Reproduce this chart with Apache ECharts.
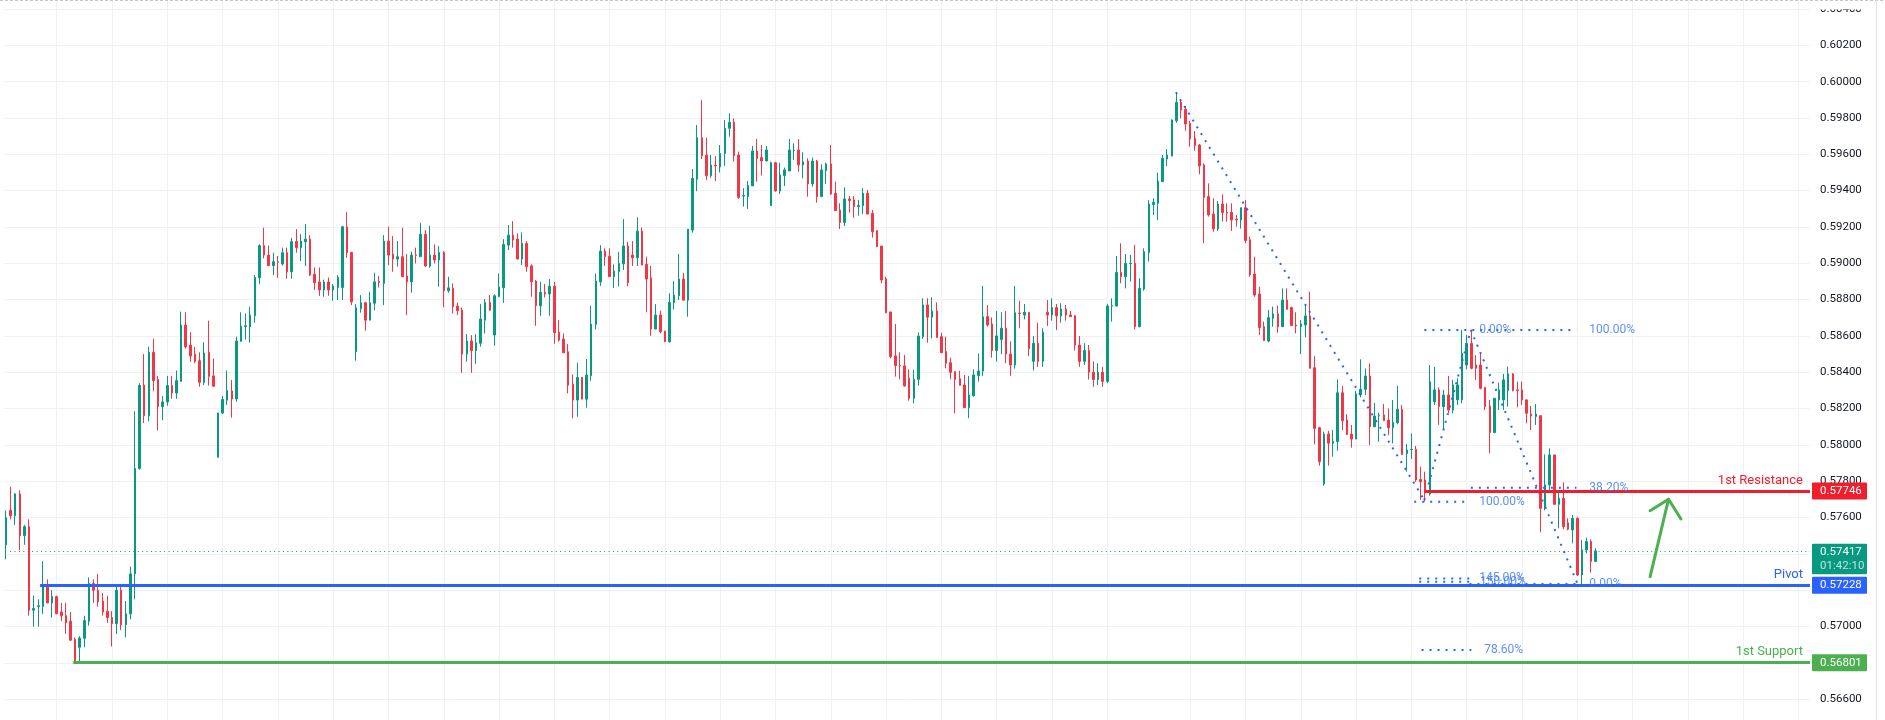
<!DOCTYPE html>
<html><head><meta charset="utf-8">
<script src="https://cdn.jsdelivr.net/npm/echarts@6/dist/echarts.min.js"></script>
<style>html,body{margin:0;padding:0;background:#fff}#c{width:1885px;height:720px}</style>
</head><body><div id="c"></div>
<script>
const opens=[0.5745,0.5764,0.5761,0.5773,0.575,0.5755,0.5709,0.5711,0.5711,0.5723,
0.5713,0.57165,0.5708,0.5706,0.5703,0.5693,0.56886,0.56936,0.5703,0.57237,
0.572,0.5714,0.57085,0.5705,0.57016,0.572,0.5701,0.5707,0.5729,0.5787,
0.5833,0.5816,0.5851,0.5836,0.5821,0.58237,0.58327,0.58286,0.5835,0.5866,
0.5855,0.585,0.58464,0.58345,0.5851,0.5838,0.57932,0.58176,0.58246,0.58297,
0.58253,0.5857,0.58652,0.5865,0.58711,0.5892,0.59097,0.59045,0.58987,0.59008,
0.58996,0.59058,0.58953,0.5912,0.59086,0.59118,0.59133,0.5894,0.58897,0.58853,
0.58897,0.58853,0.58867,0.58867,0.592,0.5906,0.58513,0.5875,0.58783,0.58687,
0.5878,0.589,0.58889,0.59122,0.5905,0.59023,0.59036,0.5893,0.58898,0.59046,
0.59036,0.5916,0.58985,0.59045,0.59018,0.5906,0.58849,0.58862,0.58764,0.58742,
0.585,0.58572,0.58519,0.5856,0.58687,0.58785,0.58605,0.58816,0.58865,0.591,
0.59155,0.59133,0.59023,0.59109,0.58986,0.58902,0.58766,0.5884,0.58831,0.58874,
0.58621,0.58583,0.58513,0.58335,0.58247,0.58372,0.58252,0.58381,0.58663,0.58898,
0.59067,0.59039,0.58926,0.58953,0.58996,0.59095,0.59045,0.5903,0.59177,0.58994,
0.5892,0.58638,0.58715,0.58627,0.58568,0.58783,0.58821,0.58913,0.58797,0.59183,
0.59463,0.59691,0.59596,0.59482,0.5954,0.59531,0.59605,0.59743,0.59776,0.59596,
0.5937,0.59367,0.59426,0.59618,0.59582,0.59563,0.59317,0.59554,0.59398,0.59483,
0.59508,0.5962,0.59624,0.59541,0.59563,0.59437,0.59563,0.59367,0.5951,0.59547,
0.59385,0.59293,0.59224,0.59354,0.59349,0.59312,0.59317,0.59385,0.59275,0.5918,
0.59095,0.58914,0.58732,0.5849,0.58438,0.58435,0.58367,0.58257,0.58361,0.58595,
0.58771,0.58703,0.58737,0.58596,0.58514,0.58453,0.58404,0.58365,0.5833,0.58205,
0.58271,0.58382,0.58407,0.58706,0.58666,0.5852,0.5858,0.58642,0.585,0.5844,
0.58726,0.58715,0.5873,0.5846,0.5856,0.5846,0.5873,0.58715,0.58756,0.5871,
0.58748,0.58715,0.58711,0.5855,0.5846,0.5852,0.584,0.5836,0.584,0.5835,
0.58765,0.58765,0.5895,0.58926,0.58998,0.59,0.58651,0.58858,0.5906,0.59324,
0.5933,0.59449,0.59574,0.5959,0.59785,0.59886,0.59848,0.5977,0.59688,0.59651,
0.59541,0.59367,0.59271,0.59189,0.59326,0.5928,0.5928,0.59242,0.59238,0.59306,
0.59129,0.58941,0.58831,0.58651,0.58572,0.58697,0.58721,0.58651,0.58798,0.58756,
0.5866,0.58651,0.5866,0.5871,0.58425,0.58095,0.57785,0.5806,0.58009,0.58018,
0.58287,0.58137,0.5806,0.58032,0.58275,0.58306,0.58379,0.581,0.5816,0.58165,
0.58137,0.58095,0.58122,0.58196,0.57953,0.57975,0.57976,0.5781,0.57807,0.5773,
0.58238,0.58303,0.58211,0.58275,0.58192,0.58248,0.58248,0.5844,0.58559,0.5844,
0.5844,0.58317,0.58214,0.58068,0.58248,0.58248,0.58299,0.58391,0.58303,0.58303,
0.58248,0.5817,0.58156,0.58161,0.57651,0.5778,0.57945,0.57673,0.57706,0.57572,
0.57532,0.57596,0.57284,0.57422,0.57468,0.57358];
const closes=[0.576,0.5761,0.5773,0.575,0.5755,0.5709,0.571,0.57115,0.5723,0.5713,
0.57165,0.5707,0.5706,0.5702,0.56925,0.56803,0.56937,0.57033,0.57237,0.572,
0.57137,0.5708,0.5705,0.57016,0.572,0.5701,0.5707,0.5729,0.5787,0.58327,
0.5816,0.5851,0.58354,0.5821,0.58237,0.58327,0.58286,0.58354,0.5866,0.5854,
0.5849,0.5846,0.58345,0.58506,0.58378,0.58323,0.58176,0.5825,0.583,0.58253,
0.58572,0.58654,0.58656,0.58715,0.58922,0.59097,0.59045,0.58987,0.59009,0.59006,
0.59058,0.58953,0.59119,0.59086,0.59122,0.59133,0.58935,0.58893,0.58853,0.58897,
0.58853,0.58875,0.58922,0.59201,0.59058,0.58788,0.58755,0.58783,0.58687,0.58783,
0.58898,0.58894,0.59122,0.59045,0.59023,0.59036,0.58926,0.58898,0.59045,0.59043,
0.5916,0.58985,0.59045,0.59018,0.5906,0.58849,0.58865,0.58761,0.58739,0.585,
0.58572,0.58519,0.58563,0.58693,0.58785,0.58742,0.58821,0.58869,0.59104,0.59155,
0.59128,0.59023,0.59109,0.58981,0.58898,0.58766,0.5884,0.58831,0.58874,0.58618,
0.58577,0.58507,0.58329,0.58247,0.58372,0.58252,0.58385,0.58665,0.58902,0.59067,
0.59036,0.58926,0.58957,0.58999,0.59095,0.58893,0.5903,0.59177,0.5899,0.58913,
0.58638,0.58715,0.58623,0.58568,0.58785,0.58825,0.58913,0.58797,0.59188,0.59467,
0.59691,0.59592,0.59482,0.59541,0.59536,0.59605,0.59743,0.59776,0.59593,0.59363,
0.59373,0.59429,0.59618,0.59576,0.59563,0.59624,0.59554,0.59398,0.59486,0.59514,
0.59624,0.59622,0.59541,0.59558,0.59437,0.59563,0.59367,0.59514,0.59547,0.59382,
0.5929,0.59224,0.59354,0.59345,0.59312,0.59319,0.59385,0.59271,0.59174,0.59092,
0.58908,0.58728,0.58486,0.58437,0.58435,0.58325,0.58257,0.58361,0.58599,0.58771,
0.58703,0.58737,0.58591,0.58508,0.58449,0.584,0.58361,0.58328,0.58205,0.58275,
0.58385,0.58407,0.58706,0.5866,0.5852,0.586,0.58642,0.585,0.5844,0.58728,
0.58724,0.5873,0.5853,0.5856,0.5846,0.5862,0.58715,0.58756,0.5871,0.58748,
0.58715,0.58706,0.5855,0.5846,0.5852,0.584,0.5836,0.584,0.5835,0.58765,
0.58767,0.5895,0.58926,0.59,0.59,0.58651,0.58862,0.59064,0.59326,0.59336,
0.59453,0.59578,0.59596,0.59789,0.59886,0.59844,0.59767,0.59684,0.59647,0.59536,
0.59363,0.59266,0.59189,0.59326,0.59279,0.59276,0.59238,0.59238,0.59306,0.59125,
0.58936,0.58825,0.58646,0.58574,0.58701,0.58721,0.58651,0.58798,0.58747,0.58657,
0.58655,0.58666,0.5871,0.58422,0.58091,0.57908,0.5806,0.58009,0.58021,0.58287,
0.58133,0.58058,0.58032,0.5828,0.58306,0.58379,0.581,0.58159,0.58163,0.58133,
0.58095,0.58124,0.58196,0.57948,0.57972,0.57976,0.57807,0.57797,0.57737,0.58348,
0.58303,0.58211,0.58275,0.58192,0.5833,0.5833,0.58504,0.58559,0.58422,0.58422,
0.58312,0.58211,0.58068,0.58257,0.58303,0.58358,0.58391,0.58299,0.58299,0.58248,
0.58174,0.58159,0.5817,0.57651,0.5778,0.57945,0.57673,0.57706,0.5755,0.57536,
0.57596,0.57284,0.57422,0.57468,0.57358,0.57417];
const lows=[0.5737,0.5759,0.5756,0.5742,0.5745,0.5706,0.57,0.57,0.5707,0.5713,
0.5705,0.5707,0.5703,0.5696,0.5692,0.56801,0.56805,0.56886,0.57005,0.5713,
0.5711,0.5706,0.5702,0.5689,0.5696,0.5698,0.5694,0.5704,0.5715,0.57864,
0.5812,0.5813,0.58295,0.5808,0.58136,0.58216,0.58255,0.58255,0.5835,0.5853,
0.58457,0.5845,0.5832,0.5833,0.58327,0.5832,0.5793,0.5817,0.5822,0.5815,
0.58238,0.5857,0.5858,0.58563,0.58673,0.58884,0.59027,0.58987,0.58935,0.5892,
0.58987,0.58915,0.58915,0.59058,0.59012,0.58985,0.5893,0.58853,0.5882,0.58816,
0.58821,0.58794,0.58798,0.58798,0.5903,0.5877,0.58464,0.58728,0.58629,0.58687,
0.58742,0.58867,0.5877,0.5899,0.58953,0.58981,0.58926,0.58715,0.58838,0.58999,
0.59036,0.58981,0.58975,0.58999,0.58871,0.58757,0.58838,0.58724,0.58715,0.58397,
0.58458,0.58397,0.58447,0.58541,0.58614,0.58737,0.58546,0.58814,0.58783,0.59073,
0.59086,0.59023,0.5899,0.58953,0.58816,0.58656,0.58711,0.58812,0.58711,0.58557,
0.58568,0.58507,0.58284,0.58146,0.58155,0.58252,0.58205,0.58353,0.58636,0.58876,
0.58986,0.58926,0.58865,0.58874,0.58963,0.58874,0.58985,0.58985,0.5899,0.5873,
0.58601,0.58638,0.58614,0.58568,0.58563,0.58746,0.58797,0.58797,0.58706,0.59168,
0.59397,0.59574,0.59458,0.59471,0.59453,0.595,0.59536,0.59697,0.5956,0.59354,
0.59312,0.59299,0.59426,0.59449,0.59483,0.59563,0.59317,0.59394,0.59382,0.59426,
0.59508,0.59569,0.59504,0.59468,0.59367,0.59422,0.59334,0.59367,0.59437,0.59376,
0.5929,0.59189,0.59205,0.59279,0.59251,0.59262,0.59271,0.59271,0.59141,0.59088,
0.5889,0.58725,0.58477,0.58376,0.58361,0.58321,0.58244,0.58229,0.58326,0.58583,
0.58563,0.58587,0.58591,0.58504,0.58422,0.58361,0.58174,0.58328,0.58205,0.58147,
0.58266,0.58348,0.5838,0.58651,0.5848,0.5846,0.585,0.5845,0.5838,0.5842,
0.58642,0.58691,0.5849,0.5841,0.5843,0.5843,0.58655,0.58684,0.58633,0.58673,
0.58684,0.58706,0.5852,0.5843,0.5844,0.5836,0.5832,0.5833,0.5832,0.5834,
0.58679,0.58761,0.5889,0.58862,0.58899,0.58636,0.58647,0.58849,0.59009,0.59266,
0.59238,0.59449,0.59536,0.5959,0.59774,0.59798,0.5973,0.59642,0.5962,0.5949,
0.5911,0.59257,0.59174,0.59178,0.59229,0.59229,0.59178,0.59202,0.59191,0.5911,
0.58926,0.58816,0.58605,0.58574,0.58565,0.58651,0.58618,0.58651,0.58745,0.58657,
0.58614,0.58501,0.58592,0.58422,0.58003,0.57886,0.57775,0.57886,0.57935,0.57968,
0.58082,0.58054,0.57985,0.58032,0.58262,0.58275,0.57999,0.581,0.58018,0.58133,
0.58054,0.58009,0.58113,0.57944,0.57853,0.57922,0.57797,0.57697,0.57688,0.57721,
0.5822,0.5811,0.58082,0.58174,0.58174,0.5822,0.58229,0.58416,0.58416,0.58358,
0.58306,0.58192,0.57954,0.58064,0.58192,0.58192,0.58211,0.58295,0.58207,0.5822,
0.58119,0.58082,0.5811,0.57519,0.5764,0.57752,0.5767,0.57541,0.57536,0.5753,
0.57458,0.57279,0.57229,0.57403,0.57297,0.57358];
const highs=[0.5764,0.5777,0.57735,0.5775,0.5756,0.5759,0.5717,0.5715,0.5736,0.5726,
0.572,0.5717,0.5713,0.5713,0.5708,0.5694,0.56947,0.5706,0.5727,0.5726,
0.5729,0.57185,0.5717,0.57085,0.5722,0.5722,0.5714,0.5733,0.58185,0.5834,
0.585,0.5854,0.58585,0.5838,0.5827,0.5838,0.5838,0.5841,0.58734,0.5873,
0.5862,0.5854,0.5851,0.58565,0.58684,0.58475,0.58176,0.5827,0.5841,0.58357,
0.58596,0.5873,0.58724,0.5876,0.58935,0.59104,0.59196,0.59097,0.59058,0.5904,
0.59086,0.59086,0.5914,0.59188,0.5916,0.59216,0.59155,0.58977,0.58977,0.5891,
0.58922,0.58886,0.58935,0.59207,0.59282,0.5906,0.58775,0.58825,0.58788,0.58843,
0.58948,0.5893,0.59155,0.59201,0.5915,0.59122,0.59196,0.59051,0.59064,0.59086,
0.59223,0.59183,0.59207,0.59104,0.59095,0.59067,0.58926,0.58889,0.58783,0.58757,
0.5861,0.58605,0.5861,0.58775,0.58803,0.58825,0.58829,0.58944,0.59133,0.5921,
0.59232,0.59164,0.5917,0.59122,0.58994,0.58908,0.58899,0.58886,0.58913,0.58898,
0.58687,0.58614,0.58555,0.58388,0.58452,0.58372,0.58473,0.58766,0.58944,0.591,
0.59082,0.59082,0.58994,0.59063,0.59243,0.59119,0.59122,0.59253,0.59197,0.59036,
0.58985,0.58775,0.58739,0.58627,0.58834,0.58902,0.59051,0.58948,0.59188,0.59519,
0.59761,0.59898,0.59691,0.59596,0.5959,0.59651,0.59789,0.59826,0.59798,0.59615,
0.59413,0.59453,0.59646,0.59684,0.59651,0.59646,0.59559,0.59559,0.59554,0.59527,
0.59684,0.5966,0.59684,0.59611,0.59578,0.59582,0.59569,0.59545,0.59554,0.59651,
0.5945,0.5933,0.59418,0.5937,0.5937,0.59349,0.59413,0.59404,0.59293,0.5918,
0.59095,0.58926,0.58732,0.58666,0.5851,0.58495,0.58416,0.58413,0.58618,0.58807,
0.58807,0.58813,0.58785,0.58618,0.58596,0.5848,0.58404,0.58409,0.58385,0.5838,
0.58416,0.58504,0.58875,0.5877,0.58702,0.58737,0.5873,0.58737,0.5857,0.58875,
0.58794,0.58776,0.5873,0.586,0.58673,0.58642,0.58798,0.58807,0.58776,0.5878,
0.5877,0.58737,0.58715,0.586,0.5856,0.5855,0.5846,0.5845,0.5843,0.58776,
0.58807,0.5904,0.5911,0.59051,0.59046,0.59101,0.58917,0.59082,0.59348,0.59358,
0.59499,0.59596,0.59629,0.59792,0.59941,0.59904,0.59866,0.59785,0.59728,0.59657,
0.5955,0.5944,0.59358,0.59343,0.5938,0.5933,0.5933,0.59266,0.59306,0.59348,
0.59147,0.59036,0.58871,0.58679,0.58743,0.58761,0.58767,0.58862,0.58862,0.58761,
0.5873,0.58688,0.5877,0.58844,0.58489,0.581,0.58073,0.58078,0.58082,0.58361,
0.58324,0.5817,0.5811,0.58297,0.58471,0.58421,0.58449,0.58232,0.58177,0.58225,
0.58201,0.58247,0.58324,0.5822,0.58005,0.58064,0.57994,0.5788,0.57853,0.5844,
0.5843,0.58317,0.58303,0.5838,0.58358,0.58367,0.58633,0.58605,0.58633,0.58495,
0.58504,0.58317,0.58248,0.58257,0.58343,0.58391,0.58431,0.58395,0.58348,0.58348,
0.58251,0.58214,0.58225,0.58161,0.57948,0.57981,0.57945,0.57743,0.57794,0.57596,
0.57614,0.57602,0.57477,0.5749,0.5748,0.57431];

// chart frame values
const slotCount = 392;                       // candle slots incl. empty right margin
const viewRange = [0.564857, 0.604494];      // visible price range
const tickRange = [0.566, 0.604];            // labelled price ticks
const tickStep = 0.002;
const timeGridSlots = [11,23,35,47,59,71,83,95,107,119,131,143,155,167,179,191,203,215,227,239,257,269,281,293,305,317,329,341,353,365,377,389];

// annotations
const lastPrice = 0.57417, lastPriceFrom = 0.9, countdown = '01:42:10';
const levelLines = [
  {name:'1st Resistance', price:0.57746, from:307.8, color:'#f01e2c'},
  {name:'Pivot', price:0.57228, from:7.4, color:'#2962ff'},
  {name:'1st Support', price:0.56801, from:14.6, color:'#4caf50'}
];
const fibLines = [ // [price, fromSlot, toSlot]
  [0.58633,307.8,340.8],[0.57764,317.9,340.8],[0.57687,305.6,316.9],
  [0.57265,306.7,317.6],[0.57247,306.7,317.6],[0.57234,317.6,341.4],[0.56871,307.2,318.0]
];
const fibLabels = [ // [text, price, atSlot]
  ['0.00%',0.58633,319.7],['100.00%',0.58633,343.6],['38.20%',0.57764,343.6],
  ['100.00%',0.57687,319.7],['145.00%',0.57265,319.7],['150.00%',0.57247,319.9],
  ['0.00%',0.57234,343.6],['78.60%',0.56871,320.8]
];
const trendLines = [
  [[253.9,0.59941],[307.8,0.57697]],
  [[307.8,0.57697],[317.9,0.58633]],
  [[317.9,0.58633],[341.0,0.57238]]
];
const arrowShaft = [[356.8,0.57275],[360.8,0.57701]];
const arrowHead = [[356.8,0.57638],[360.8,0.57701],[363.5,0.57592]];

const UP='#089981', DOWN='#f23645', FIB='#2962ff', FIBTXT='#3574f5';
const slots = Array.from({length: slotCount}, (_, i) => String(i));
const candles = opens.map((o, i) => [o, closes[i], lows[i], highs[i]]);
const endSlot = slotCount - 0.5;

const series = [
  {type:'line', xAxisIndex:1, yAxisIndex:0, data:[], silent:true,
   markLine:{silent:true, symbol:'none', z:1, animation:false, label:{show:false},
     lineStyle:{color:'#f0f1f4', width:1, type:'solid'},
     data: timeGridSlots.map(s => ({xAxis: s}))}},
  {type:'candlestick', xAxisIndex:0, yAxisIndex:0, data:candles, barWidth:2, z:3,
   itemStyle:{color:UP, color0:DOWN, borderColor:UP, borderColor0:DOWN, borderWidth:1}},
  {type:'line', xAxisIndex:1, yAxisIndex:0, data:[], silent:true,
   markLine:{silent:true, symbol:'none', animation:false,
     data: [[{coord:[lastPriceFrom,lastPrice], lineStyle:{color:UP, width:1, type:[1,3.4]}, label:{show:false}},{coord:[endSlot,lastPrice]}]]
       .concat(levelLines.map(l => [
         {coord:[l.from,l.price], lineStyle:{color:l.color, width:3, type:'solid'},
          label:{show:true, position:'insideEndTop', formatter:l.name, color:l.color, fontSize:13, fontFamily:'Roboto', distance:[7,4]}},
         {coord:[endSlot,l.price]}]))}}
];
fibLines.forEach(f => series.push({type:'line', xAxisIndex:1, yAxisIndex:0, silent:true, symbol:'none', z:4,
  data:[[f[1],f[0]],[f[2],f[0]]], lineStyle:{color:FIB, width:2, type:[2,6]}}));
trendLines.forEach(t => series.push({type:'line', xAxisIndex:1, yAxisIndex:0, silent:true, symbol:'none', z:4,
  data:t, lineStyle:{color:FIB, width:2, type:[2,6]}}));
series.push({type:'scatter', xAxisIndex:1, yAxisIndex:0, silent:true, symbolSize:0, z:5,
  data: fibLabels.map(f => ({value:[f[2], f[1]], label:{formatter:f[0]}})),
  label:{show:true, position:[0,0], align:'left', verticalAlign:'middle', color:FIBTXT, fontSize:12, fontFamily:'Roboto'}});
[arrowShaft, arrowHead].forEach(a => series.push({type:'line', xAxisIndex:1, yAxisIndex:0, silent:true, symbol:'none', z:6,
  data:a, lineStyle:{color:'#4caf50', width:3, cap:'round', join:'round'}}));

const chart = echarts.init(document.getElementById('c'));
chart.setOption({
  animation:false,
  backgroundColor:'#ffffff',
  grid:[{left:3.7, right:75, top:0, bottom:0}, {left:3.7, right:75, top:8.97, bottom:20.8}],
  xAxis:[
    {type:'category', gridIndex:0, data:slots, show:false},
    {type:'value', gridIndex:0, min:-0.5, max:endSlot, show:false},
    {type:'value', gridIndex:1, min:0, max:1, show:false}
  ],
  yAxis:[
    {type:'value', gridIndex:0, min:viewRange[0], max:viewRange[1], show:false},
    {type:'value', gridIndex:1, min:tickRange[0], max:tickRange[1], interval:tickStep, position:'right',
     axisLine:{show:false}, axisTick:{show:false},
     splitLine:{show:true, lineStyle:{color:'#f0f1f4', width:1}},
     axisLabel:{color:'#131722', fontSize:11.5, fontFamily:'Roboto', margin:10, formatter:v => v.toFixed(5)}}
  ],
  series
});

// right-axis price tags
const px = p => chart.convertToPixel({yAxisIndex:0}, p);
const tagX = 1812, tagW = 55;
const tags = [];
function tag(price, color){
  const y = px(price);
  tags.push({type:'rect', shape:{x:tagX, y:y-8.5, width:tagW, height:17, r:1}, style:{fill:color}, z:100});
  tags.push({type:'text', x:tagX+8, y:y, style:{text:price.toFixed(5), fill:'#fff', font:'11.5px Roboto', verticalAlign:'middle'}, z:101});
}
levelLines.forEach(l => tag(l.price, l.color));
{
  const y = px(lastPrice);
  tags.push({type:'rect', shape:{x:tagX, y:y-7, width:tagW, height:30.5, r:1}, style:{fill:UP}, z:100});
  tags.push({type:'text', x:tagX+8, y:y+1.5, style:{text:lastPrice.toFixed(5), fill:'#fff', font:'11.5px Roboto', verticalAlign:'middle'}, z:101});
  tags.push({type:'text', x:tagX+8, y:y+15.5, style:{text:countdown, fill:'rgba(255,255,255,0.72)', font:'11.5px Roboto', verticalAlign:'middle'}, z:101});
}
// pane frame: top edge hides the upper half of the first price label, right border
tags.push({type:'rect', shape:{x:1811, y:0, width:65, height:9.5}, style:{fill:'#ffffff'}, z:90});
tags.push({type:'line', shape:{x1:0, y1:0.5, x2:1885, y2:0.5}, style:{stroke:'#c3c6ce', lineWidth:1, lineDash:[3,2]}, z:95});
tags.push({type:'line', shape:{x1:1876.5, y1:0, x2:1876.5, y2:720}, style:{stroke:'#e0e3eb', lineWidth:1}, z:95});
chart.setOption({graphic: tags});
</script>
</body></html>
